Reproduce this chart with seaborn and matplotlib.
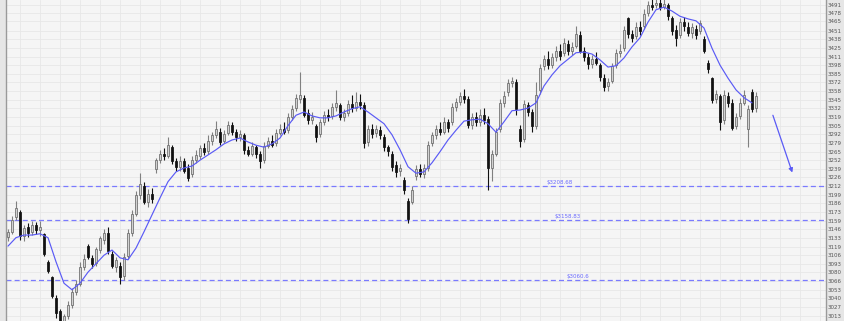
import numpy as np
import pandas as pd
import matplotlib
matplotlib.use("Agg")
import matplotlib.pyplot as plt
import seaborn as sns

# ---- data ----
opens = [3134,3142,3165,3172,3136,3150,3141,3152,3145,3138,3096,3072,3040,3020,3005,3012,3030,3050,3062,3088,
         3120,3102,3094,3114,3130,3140,3108,3088,3090,3074,3105,3140,3170,3198,3212,3188,3200,3238,3252,3262,
         3258,3272,3250,3242,3250,3240,3230,3252,3258,3270,3266,3282,3290,3296,3282,3294,3306,3296,3288,3290,
         3268,3262,3272,3262,3252,3274,3282,3278,3294,3300,3298,3318,3332,3346,3348,3324,3314,3304,3292,3310,
         3322,3320,3334,3336,3318,3324,3338,3332,3342,3336,3280,3300,3294,3298,3288,3272,3262,3244,3236,3222,
         3190,3188,3228,3238,3230,3240,3278,3290,3300,3296,3310,3310,3334,3342,3350,3346,3306,3318,3310,3322,
         3316,3240,3262,3300,3340,3356,3370,3372,3300,3284,3336,3326,3304,3360,3396,3408,3398,3410,3420,3416,
         3430,3420,3428,3444,3420,3410,3400,3408,3398,3378,3366,3374,3398,3416,3424,3470,3446,3442,3456,3458,
         3478,3490,3490,3494,3488,3490,3470,3452,3444,3464,3456,3448,3454,3450,3438,3402,3378,3346,3350,3314,
         3350,3340,3304,3320,3340,3300,3356,3332]
highs = [3146,3166,3190,3176,3152,3156,3158,3157,3158,3140,3098,3074,3045,3024,3016,3035,3056,3068,3095,3108,
         3124,3106,3118,3136,3146,3150,3112,3104,3096,3110,3146,3176,3204,3232,3218,3208,3210,3256,3268,3270,
         3288,3276,3256,3258,3255,3246,3258,3268,3276,3278,3290,3296,3312,3302,3298,3312,3310,3300,3298,3294,
         3274,3280,3276,3266,3280,3288,3290,3300,3308,3310,3324,3336,3354,3388,3352,3330,3326,3308,3316,3328,
         3330,3340,3360,3340,3330,3344,3352,3356,3354,3342,3306,3308,3306,3304,3292,3276,3266,3250,3246,3226,
         3194,3212,3244,3246,3246,3282,3296,3306,3310,3318,3316,3340,3348,3356,3362,3350,3324,3326,3330,3332,
         3320,3268,3302,3346,3358,3376,3380,3376,3306,3344,3342,3330,3372,3400,3414,3420,3416,3428,3430,3440,
         3436,3434,3458,3450,3426,3416,3414,3418,3402,3384,3378,3402,3422,3430,3458,3472,3452,3464,3466,3484,
         3496,3500,3504,3502,3500,3494,3474,3460,3470,3472,3464,3462,3460,3468,3442,3406,3380,3360,3354,3360,
         3356,3346,3324,3348,3360,3336,3362,3356]
lows = [3128,3139,3160,3130,3128,3134,3137,3138,3136,3105,3078,3040,3010,2995,2990,3008,3025,3045,3058,3084,
        3100,3086,3090,3110,3124,3108,3086,3080,3062,3068,3100,3136,3166,3192,3185,3180,3186,3232,3248,3252,
        3255,3246,3236,3236,3232,3220,3226,3248,3254,3260,3262,3276,3286,3276,3278,3290,3290,3282,3282,3262,
        3258,3258,3256,3240,3248,3270,3272,3274,3290,3292,3294,3314,3328,3340,3318,3308,3308,3280,3288,3306,
        3312,3316,3328,3314,3312,3320,3326,3328,3330,3270,3274,3286,3288,3284,3266,3258,3236,3226,3228,3200,
        3156,3184,3222,3226,3224,3236,3274,3284,3290,3292,3296,3306,3328,3336,3340,3302,3300,3304,3304,3308,
        3206,3220,3258,3296,3334,3350,3364,3322,3272,3280,3320,3296,3300,3354,3390,3392,3394,3404,3406,3412,
        3414,3414,3424,3416,3404,3392,3394,3398,3374,3358,3358,3370,3394,3410,3420,3440,3434,3438,3444,3454,
        3474,3482,3486,3482,3484,3468,3444,3428,3440,3450,3442,3440,3438,3446,3416,3386,3340,3340,3298,3308,
        3334,3298,3300,3316,3336,3272,3326,3326]
closes = [3141,3160,3178,3135,3148,3140,3153,3144,3150,3108,3082,3043,3018,3005,3012,3030,3050,3062,3088,3100,
          3104,3092,3115,3132,3140,3112,3090,3098,3072,3104,3140,3170,3198,3215,3188,3200,3192,3252,3262,3258,
          3276,3250,3242,3250,3236,3224,3252,3260,3270,3264,3282,3290,3300,3280,3292,3306,3296,3288,3292,3268,
          3262,3274,3262,3250,3274,3282,3276,3294,3300,3296,3318,3330,3348,3352,3322,3314,3318,3288,3310,3322,
          3318,3334,3340,3318,3324,3338,3332,3342,3336,3278,3300,3292,3300,3290,3272,3266,3242,3234,3240,3206,
          3162,3206,3238,3230,3240,3276,3290,3300,3296,3310,3302,3334,3342,3350,3346,3306,3318,3310,3322,3314,
          3240,3262,3296,3340,3350,3370,3374,3330,3282,3338,3326,3304,3352,3394,3408,3398,3410,3420,3412,3432,
          3420,3426,3446,3420,3410,3400,3408,3402,3380,3364,3372,3396,3416,3420,3452,3446,3440,3456,3450,3476,
          3490,3488,3494,3488,3492,3474,3450,3440,3464,3458,3448,3456,3444,3462,3420,3392,3344,3354,3310,3352,
          3340,3302,3318,3340,3352,3330,3330,3350]
# moving average, read every second session
ma_values = [3120,3133,3137,3137,3139,3133,3096,3063,3053,3063,3080,3093,3106,3114,3102,3099,3117,3142,3168,3194,
             3219,3234,3240,3243,3252,3260,3268,3277,3283,3286,3280,3275,3272,3277,3286,3305,3321,3326,3320,3317,
             3317,3320,3326,3331,3334,3326,3317,3308,3291,3268,3242,3232,3234,3248,3265,3283,3298,3312,3314,3315,
             3308,3295,3311,3328,3329,3332,3340,3366,3383,3397,3407,3417,3418,3415,3406,3395,3397,3409,3426,3440,
             3464,3483,3487,3481,3473,3469,3466,3455,3424,3398,3378,3360,3348,3340]
y_tick_labels = ["3491","3478","3465","3451","3438","3425","3411","3398","3385","3372","3358","3345","3332",
                 "3319","3305","3292","3279","3265","3252","3239","3226","3212","3199","3186","3173","3159",
                 "3146","3133","3119","3106","3093","3080","3066","3053","3040","3027","3013"]
level_values = [3212.0, 3160.5, 3068.0]
level_labels = ["$3208.68", "$3158.83", "$3060.6"]

# ---- style ----
sns.set_theme(style="whitegrid")
plt.rcParams['font.family'] = ['DejaVu Sans']

fig = plt.figure(figsize=(8.45, 3.21), dpi=100)
fig.patch.set_facecolor('#e6e6e6')
ax = fig.add_axes([6/845, 0, 820/845, 1])
ax.set_facecolor('#f5f5f5')

n = len(closes)
df = pd.DataFrame(dict(i=np.arange(n), o=opens, h=highs, l=lows, c=closes))
up = df.c >= df.o
dn = ~up

ax.vlines(df.i[up], df.l[up], df.h[up], color='#808080', lw=0.8, zorder=3)
ax.vlines(df.i[dn], df.l[dn], df.h[dn], color='#111111', lw=0.8, zorder=3)
ax.bar(df.i[up], (df.c - df.o)[up], bottom=df.o[up], width=0.66,
       color='#d2d2d2', edgecolor='#6a6a6a', linewidth=0.55, zorder=4)
ax.bar(df.i[dn], (df.o - df.c)[dn], bottom=df.c[dn], width=0.66,
       color='#111111', edgecolor='#111111', linewidth=0.55, zorder=4)

ma_df = pd.DataFrame(dict(i=np.arange(0, 2 * len(ma_values), 2), v=ma_values))
sns.lineplot(data=ma_df, x='i', y='v', color='#5a5af5', lw=0.85, ax=ax, zorder=5)

label_x = [138, 140, 142.5]
for v, lab, lx in zip(level_values, level_labels, label_x):
    ax.axhline(v, color='#7a7aff', ls=(0, (4, 2.5)), lw=0.9, zorder=2)
    ax.text(lx, v + 1.5, lab, fontsize=4, color='#6a6aff', ha='center', va='bottom', zorder=6)

ax.annotate('', xy=(196.3, 3229), xytext=(191, 3325),
            arrowprops=dict(arrowstyle='-|>', color='#5a5af5', lw=0.9, mutation_scale=6))

ax.set_xlim(-0.5, 204.5)
ax.set_ylim(3005, 3498)
ax.set_xlabel('')
ax.set_ylabel('')
ax.yaxis.tick_right()
ax.set_yticks([float(s) for s in y_tick_labels])
ax.set_yticklabels(y_tick_labels, fontsize=4, color='#555555')
ax.set_xticks(np.arange(3, 205, 5))
ax.set_xticklabels([])
ax.tick_params(axis='both', length=0, pad=1.5)
ax.grid(True, color='#e7e7e7', lw=0.6)
ax.set_axisbelow(True)
for s in ['top', 'bottom']:
    ax.spines[s].set_visible(False)
for s in ['left', 'right']:
    ax.spines[s].set_visible(True)
    ax.spines[s].set_color('#9a9a9a')
    ax.spines[s].set_linewidth(1.0)

fig.savefig('out.png', dpi=100)
